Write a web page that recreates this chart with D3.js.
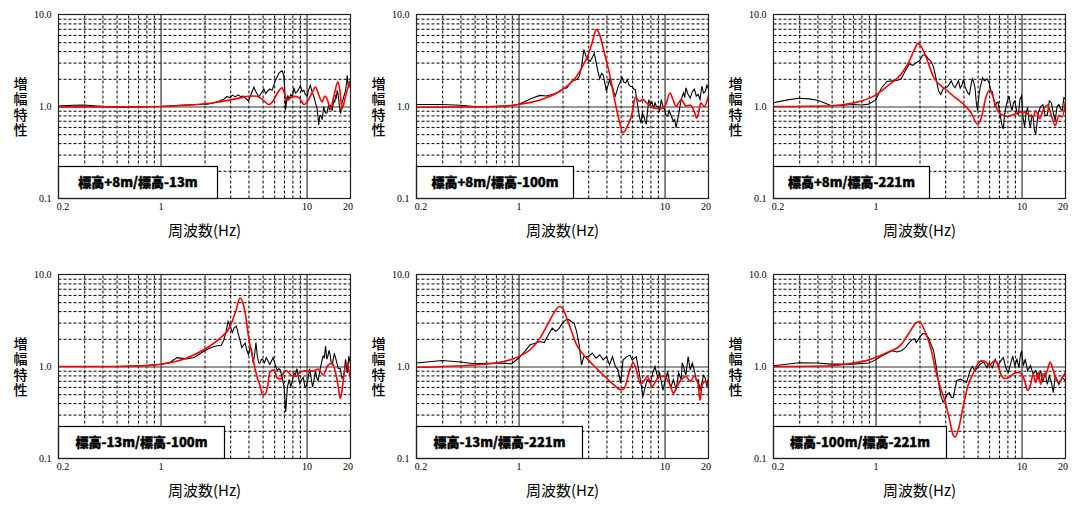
<!DOCTYPE html>
<html><head><meta charset="utf-8">
<script src="https://cdn.jsdelivr.net/npm/d3@7"></script>
<style>body{margin:0;background:#fff}</style>
</head><body>
<svg id="chart" width="1076" height="506"></svg>
<script>
// ---------- data ----------
const panelTitles = ["標高+8m/標高-13m","標高+8m/標高-100m","標高+8m/標高-221m",
                     "標高-13m/標高-100m","標高-13m/標高-221m","標高-100m/標高-221m"];
const xTickValues = [0.2, 1, 10, 20];
const xTickLabels = ["0.2", "1", "10", "20"];
const yTickValues = [0.1, 1, 10];
const yTickLabels = ["0.1", "1.0", "10.0"];
const xLabel = "周波数(Hz)";
const yLabel = "増幅特性";

// observed (black) [frequency Hz, amplification]
const obs1 = [[0.2,1.01],[0.25,1.03],[0.3,1.04],[0.35,1.02],[0.45,0.99],[0.55,0.98],[0.7,0.99],[0.85,1.0],[1.0,1.0],[1.2,1.02],[1.44,1.04],[1.8,1.05],[2.1,1.06],[2.32,1.1],[2.5,1.14],[2.71,1.2],[2.85,1.28],[3.0,1.25],[3.1,1.33],[3.25,1.27],[3.4,1.34],[3.55,1.28],[3.7,1.3],[3.85,1.22],[4.0,1.15],[4.2,1.4],[4.36,1.62],[4.5,1.45],[4.71,1.27],[4.9,1.4],[5.1,1.55],[5.25,1.38],[5.37,1.45],[5.6,1.55],[5.81,1.5],[6.0,1.75],[6.12,1.93],[6.3,2.1],[6.46,2.3],[6.65,2.4],[6.81,2.44],[6.98,2.15],[7.1,1.5],[7.18,0.91],[7.3,1.15],[7.45,1.3],[7.6,1.2],[7.8,1.35],[8.0,1.28],[8.19,1.6],[8.4,1.4],[8.63,1.45],[8.85,1.55],[9.09,1.7],[9.3,1.45],[9.58,1.5],[9.8,1.35],[10.1,1.3],[10.3,1.5],[10.6,1.7],[10.9,1.45],[11.2,1.3],[11.5,1.1],[11.8,0.95],[12.0,0.75],[12.1,0.63],[12.3,0.78],[12.5,0.8],[12.8,0.72],[13.1,1.0],[13.3,0.9],[13.5,0.85],[13.8,0.85],[14.0,0.95],[14.2,1.05],[14.4,0.92],[14.6,1.04],[14.8,0.96],[15.0,0.9],[15.2,1.05],[15.4,1.17],[15.6,1.1],[15.8,1.3],[16.0,1.25],[16.2,1.5],[16.4,1.4],[16.6,1.2],[16.8,1.0],[17.1,0.84],[17.3,0.95],[17.5,1.1],[17.8,1.2],[18.0,1.28],[18.3,1.4],[18.5,1.5],[18.8,1.8],[19.0,2.19],[19.3,1.7],[19.5,1.6],[19.8,1.9],[20,1.75]];
const obs2 = [[0.2,1.05],[0.3,1.05],[0.4,1.03],[0.5,1.0],[0.7,1.0],[0.85,1.02],[1.0,1.05],[1.2,1.21],[1.4,1.32],[1.55,1.3],[1.7,1.35],[1.85,1.42],[2.0,1.55],[2.15,1.6],[2.3,1.88],[2.5,1.96],[2.6,2.1],[2.7,2.7],[2.8,4.15],[2.9,3.5],[3.0,3.2],[3.1,3.1],[3.2,3.4],[3.3,3.8],[3.4,3.0],[3.5,2.4],[3.6,2.0],[3.7,2.3],[3.8,2.2],[3.9,1.8],[4.0,1.47],[4.1,1.7],[4.2,1.96],[4.3,1.7],[4.4,1.66],[4.5,1.4],[4.6,1.3],[4.7,1.45],[4.8,1.63],[5.0,1.9],[5.1,2.1],[5.25,1.85],[5.4,1.8],[5.55,1.95],[5.7,1.73],[5.85,1.65],[6.0,1.65],[6.15,1.55],[6.3,1.53],[6.45,1.2],[6.6,0.94],[6.75,0.75],[6.9,0.66],[7.05,0.85],[7.2,0.79],[7.35,0.7],[7.5,0.64],[7.65,0.9],[7.8,1.19],[8.0,1.05],[8.2,1.12],[8.4,0.95],[8.6,1.1],[8.8,1.0],[9.0,1.0],[9.25,0.9],[9.5,1.19],[9.75,1.0],[10.0,0.93],[10.25,0.8],[10.5,0.79],[10.75,0.9],[11.0,0.82],[11.25,0.75],[11.5,0.69],[11.75,0.72],[12.0,0.59],[12.25,0.7],[12.5,0.82],[12.75,1.0],[13.0,1.19],[13.25,1.3],[13.5,1.41],[13.75,1.25],[14.0,1.6],[14.5,1.35],[15.0,1.24],[15.5,1.45],[16.0,1.55],[16.5,1.3],[17.0,1.35],[17.5,1.2],[18.0,1.66],[18.5,1.4],[19.0,1.45],[19.5,1.7],[20,1.55]];
const obs3 = [[0.2,1.1],[0.25,1.18],[0.3,1.23],[0.35,1.21],[0.4,1.17],[0.5,1.02],[0.6,1.03],[0.7,1.05],[0.8,1.04],[0.9,1.06],[1.0,1.18],[1.1,1.6],[1.2,1.87],[1.3,1.9],[1.4,1.92],[1.5,2.0],[1.6,2.45],[1.7,2.9],[1.8,2.8],[1.9,3.0],[2.0,3.14],[2.1,3.6],[2.2,3.65],[2.3,3.3],[2.4,3.1],[2.5,2.66],[2.6,2.0],[2.7,1.48],[2.8,1.35],[2.9,1.55],[3.0,1.6],[3.1,1.64],[3.2,1.75],[3.3,1.9],[3.4,1.7],[3.5,1.6],[3.6,1.75],[3.7,1.9],[3.8,1.58],[3.9,1.7],[4.0,1.97],[4.1,1.65],[4.2,1.5],[4.3,1.4],[4.4,1.35],[4.5,1.7],[4.6,2.0],[4.7,1.85],[4.8,1.6],[4.9,1.1],[5.0,0.9],[5.1,1.3],[5.2,1.6],[5.3,1.8],[5.4,2.05],[5.5,1.95],[5.6,1.9],[5.8,2.0],[6.0,1.8],[6.15,1.5],[6.3,1.45],[6.45,1.2],[6.6,0.98],[6.75,1.1],[6.9,1.12],[7.05,0.9],[7.2,0.75],[7.35,0.62],[7.5,0.57],[7.65,0.8],[7.8,0.98],[8.0,1.15],[8.2,1.3],[8.4,1.05],[8.6,0.9],[8.8,1.1],[9.0,1.15],[9.25,0.9],[9.5,0.8],[9.75,1.2],[10.0,1.3],[10.25,0.75],[10.5,0.6],[10.75,0.85],[11.0,0.98],[11.25,0.7],[11.5,0.58],[11.75,0.8],[12.0,0.76],[12.25,0.55],[12.5,0.5],[12.75,0.65],[13.0,0.85],[13.5,1.0],[14.0,1.05],[14.5,0.8],[15.0,0.8],[15.5,1.15],[16.0,1.1],[16.5,0.85],[17.0,0.7],[17.5,1.0],[18.0,1.05],[18.5,0.95],[19.0,0.9],[19.5,1.25],[20,1.2]];
const obs4 = [[0.2,1.0],[0.3,1.0],[0.5,1.0],[0.7,1.02],[0.8,1.03],[1.0,1.05],[1.15,1.1],[1.3,1.25],[1.5,1.21],[1.7,1.25],[2.0,1.48],[2.2,1.6],[2.4,1.67],[2.6,1.7],[2.7,1.9],[2.8,2.33],[2.9,3.1],[3.0,2.75],[3.1,2.35],[3.2,2.65],[3.3,2.75],[3.4,2.3],[3.5,1.93],[3.6,1.6],[3.7,1.7],[3.8,1.8],[3.9,1.5],[4.0,1.35],[4.1,1.6],[4.2,1.55],[4.3,1.09],[4.4,1.3],[4.5,1.82],[4.6,1.3],[4.7,1.1],[4.8,1.09],[4.9,1.2],[5.0,1.2],[5.15,1.1],[5.3,1.25],[5.45,1.15],[5.6,1.05],[5.75,1.15],[5.9,1.25],[6.1,1.05],[6.3,0.9],[6.45,0.95],[6.6,0.92],[6.8,0.75],[7.0,0.62],[7.1,0.45],[7.2,0.32],[7.3,0.45],[7.4,0.6],[7.6,0.72],[7.8,0.6],[8.0,0.7],[8.2,0.85],[8.4,0.82],[8.6,0.95],[8.8,0.75],[9.0,0.65],[9.25,0.72],[9.5,0.76],[9.75,0.6],[10.0,0.62],[10.25,0.75],[10.5,0.95],[10.75,0.75],[11.0,0.6],[11.25,0.72],[11.5,0.9],[11.75,0.75],[12.0,0.7],[12.25,0.85],[12.5,1.0],[12.75,1.15],[13.0,1.3],[13.25,1.25],[13.5,1.67],[13.75,1.2],[14.0,1.3],[14.25,1.5],[14.5,1.35],[14.75,1.1],[15.0,1.05],[15.5,1.4],[16.0,1.15],[16.5,0.95],[17.0,0.95],[17.5,0.75],[18.0,0.8],[18.5,1.2],[19.0,0.85],[19.5,1.3],[20,1.05]];
const obs5 = [[0.2,1.09],[0.3,1.16],[0.4,1.12],[0.5,1.07],[0.7,1.09],[0.9,1.07],[1.0,1.23],[1.1,1.45],[1.2,1.72],[1.3,1.79],[1.4,1.87],[1.5,1.82],[1.6,2.21],[1.7,2.61],[1.8,2.4],[1.9,2.61],[2.0,2.96],[2.1,3.21],[2.2,3.25],[2.3,3.08],[2.4,2.96],[2.5,2.4],[2.6,1.72],[2.7,1.04],[2.8,1.28],[3.0,1.28],[3.2,1.4],[3.4,1.23],[3.6,1.34],[3.8,1.18],[4.0,1.28],[4.2,1.04],[4.4,1.28],[4.6,1.0],[4.8,0.92],[5.0,0.66],[5.2,1.18],[5.5,1.28],[5.8,1.33],[6.0,1.18],[6.4,1.28],[6.8,0.75],[7.1,0.47],[7.3,0.56],[7.6,0.72],[8.0,0.66],[8.3,0.85],[8.6,1.0],[9.0,0.75],[9.25,0.85],[9.5,0.69],[9.75,0.55],[10.0,0.66],[10.5,0.88],[11.0,0.58],[11.5,0.72],[12.0,0.56],[12.5,0.85],[13.0,0.72],[13.2,1.1],[13.5,1.0],[14.0,0.8],[14.5,1.28],[15.0,0.92],[15.5,1.09],[16.0,0.9],[16.5,0.7],[17.0,0.72],[17.5,0.55],[18.0,0.66],[18.5,0.8],[19.0,0.75],[19.5,0.6],[20,0.76]];
const obs6 = [[0.2,1.02],[0.3,1.1],[0.4,1.09],[0.5,1.06],[0.7,1.06],[0.9,1.09],[1.0,1.18],[1.1,1.3],[1.2,1.39],[1.3,1.48],[1.4,1.44],[1.5,1.48],[1.6,1.6],[1.7,1.82],[1.8,1.98],[1.85,2.0],[1.9,1.82],[2.0,2.06],[2.1,2.29],[2.2,2.24],[2.3,2.06],[2.4,1.74],[2.5,1.48],[2.6,1.02],[2.7,0.67],[2.8,0.48],[2.9,0.41],[3.0,0.44],[3.1,0.5],[3.2,0.52],[3.3,0.46],[3.4,0.46],[3.5,0.57],[3.6,0.7],[3.8,0.73],[4.0,0.7],[4.2,0.67],[4.4,0.86],[4.5,0.94],[4.6,1.0],[4.8,0.9],[5.0,0.97],[5.2,1.06],[5.5,1.12],[5.8,0.97],[6.0,1.09],[6.3,0.97],[6.6,1.2],[6.9,1.02],[7.2,1.15],[7.5,1.25],[7.8,0.97],[8.1,0.86],[8.4,1.06],[8.7,1.3],[9.0,1.02],[9.3,1.2],[9.6,0.97],[9.8,1.3],[10.0,1.48],[10.3,1.02],[10.6,1.2],[11.0,0.9],[11.5,1.02],[12.0,0.83],[12.5,0.9],[13.0,0.74],[13.5,0.9],[14.0,0.67],[14.5,0.86],[15.0,0.64],[15.5,0.79],[16.0,0.67],[16.5,0.52],[17.0,0.79],[18.0,0.64],[19.0,0.76],[20,0.7]];

// theoretical (red)
const theo1 = [[0.2,0.99],[0.4,0.99],[0.7,0.99],[1,1.0],[1.5,1.03],[2,1.07],[2.5,1.12],[3,1.18],[3.5,1.24],[4.0,1.29],[4.4,1.3],[4.8,1.25],[5.2,1.12],[5.5,1.05],[5.9,1.15],[6.4,1.45],[6.8,1.6],[7.1,1.35],[7.4,1.17],[7.8,1.25],[8.2,1.29],[8.8,1.26],[9.2,1.15],[9.6,1.05],[10.2,1.15],[11,1.45],[11.5,1.63],[12.1,1.35],[12.8,1.12],[13.3,1.3],[13.8,1.22],[14.6,0.95],[15.4,1.3],[16.4,1.85],[16.9,1.5],[17.5,0.95],[18.3,1.2],[19.2,1.6],[20,1.85]];
const theo2 = [[0.2,0.98],[0.5,0.99],[0.8,1.01],[1,1.05],[1.5,1.22],[2,1.53],[2.5,2.13],[2.8,2.9],[3.0,3.66],[3.2,5.0],[3.4,6.85],[3.6,6.0],[3.8,4.3],[4.0,3.1],[4.3,1.9],[4.5,1.29],[4.8,0.8],[5.2,0.52],[5.6,0.62],[6.0,0.85],[6.3,1.26],[6.75,1.14],[7.12,1.19],[7.6,1.08],[8.4,0.97],[9.0,0.95],[9.6,0.95],[10.2,1.05],[10.9,1.4],[11.4,1.2],[12.0,1.0],[12.5,1.1],[13.0,1.2],[14.0,1.01],[15,1.04],[16,0.88],[16.6,0.75],[17.1,0.85],[17.7,1.1],[18.7,1.0],[20,1.31]];
const theo3 = [[0.2,1.0],[0.5,1.02],[0.7,1.09],[1.0,1.33],[1.2,1.66],[1.5,2.25],[1.7,3.1],[1.85,4.2],[1.95,4.85],[2.05,4.5],[2.2,3.56],[2.5,2.08],[3.0,1.55],[3.5,1.26],[4.0,1.06],[4.5,0.86],[5.0,0.64],[5.3,0.75],[5.7,1.25],[6.0,1.5],[6.3,1.35],[6.7,0.98],[7.0,0.86],[7.5,0.8],[8.0,0.78],[9.0,0.83],[10.0,0.87],[11.0,0.83],[12.0,0.76],[12.5,0.9],[13.3,0.74],[14.0,0.9],[15,1.04],[16,0.8],[17,0.62],[18,0.8],[19,0.77],[20,1.15]];
const theo4 = [[0.2,1.0],[0.5,1.0],[0.8,1.02],[1.0,1.06],[1.5,1.23],[2.0,1.54],[2.5,1.97],[3.0,2.75],[3.3,4.17],[3.5,5.56],[3.65,5.0],[3.8,3.83],[4.0,2.14],[4.3,1.2],[4.6,0.75],[4.8,0.62],[5.0,0.49],[5.2,0.5],[5.4,0.6],[5.6,0.86],[6.0,0.92],[6.3,0.75],[6.7,0.73],[7.0,0.88],[7.3,0.9],[7.8,0.81],[8.5,0.78],[9.0,0.87],[10,0.9],[11,0.89],[12,0.94],[13,0.81],[14,1.03],[15,1.09],[16,0.78],[16.5,0.6],[17,0.45],[17.5,0.55],[18,0.8],[18.8,1.1],[19.4,0.95],[20,0.73]];
const theo5 = [[0.2,0.98],[0.5,1.04],[0.7,1.09],[0.9,1.2],[1.0,1.28],[1.2,1.52],[1.4,2.03],[1.6,2.96],[1.8,4.12],[1.9,4.49],[2.0,4.3],[2.2,2.96],[2.5,1.72],[3.0,1.18],[3.5,0.92],[4.0,0.75],[4.5,0.63],[5.0,0.56],[5.3,0.58],[5.7,0.85],[6.1,1.1],[6.4,0.92],[6.8,0.66],[7.2,0.69],[7.6,0.78],[8.2,0.61],[9.0,0.75],[9.5,0.78],[10,0.78],[11,0.61],[11.5,0.51],[12,0.58],[13,0.72],[14,0.78],[15,0.69],[16,0.78],[17,0.63],[17.5,0.43],[18,0.61],[19,0.69],[20,0.61]];
const theo6 = [[0.2,1.0],[0.5,1.02],[0.7,1.09],[0.9,1.18],[1.0,1.25],[1.2,1.42],[1.5,1.74],[1.7,2.33],[1.9,2.99],[2.0,3.07],[2.2,2.33],[2.4,1.54],[2.6,0.86],[2.8,0.57],[3.0,0.41],[3.2,0.27],[3.4,0.18],[3.5,0.17],[3.7,0.21],[4.0,0.38],[4.3,0.62],[4.7,0.86],[5.0,1.06],[5.3,1.15],[5.7,1.12],[6.0,1.02],[6.5,1.15],[6.8,1.1],[7.2,0.83],[7.6,0.74],[8.2,0.76],[9.0,0.85],[9.5,0.86],[10,0.83],[10.5,0.7],[11,0.55],[11.5,0.62],[12,0.83],[12.5,0.67],[13,0.86],[13.5,0.64],[14,0.83],[14.5,0.79],[15,0.9],[15.7,1.12],[16.5,0.9],[17.5,0.7],[18,0.67],[19,0.76],[20,0.86]];

const observed = [obs1, obs2, obs3, obs4, obs5, obs6];
const theoretical = [theo1, theo2, theo3, theo4, theo5, theo6];

// ---------- layout ----------
const colLeft = [58.5, 416.5, 773.5];
const rowTop = [14.5, 274.5];
const W = 292, H = 184;
const boxW = [159, 157, 156, 166, 166, 173];
const boxH = 32;

const svg = d3.select("#chart");
const minorX = [0.3,0.4,0.5,0.6,0.7,0.8,0.9,2,3,4,5,6,7,8,9];
const minorY = [0.2,0.3,0.4,0.5,0.6,0.7,0.8,0.9,2,3,4,5,6,7,8,9];

panelTitles.forEach((title, i) => {
  const col = i % 3, row = Math.floor(i / 3);
  const g = svg.append("g").attr("transform", `translate(${colLeft[col]},${rowTop[row]})`);
  const x = d3.scaleLog().domain([0.2, 20]).range([0, W]);
  const y = d3.scaleLog().domain([0.1, 10]).range([H, 0]);

  // minor dashed grid
  const gxm = g.append("g").attr("transform", `translate(0,${H})`)
    .call(d3.axisBottom(x).tickValues(minorX).tickSize(-H).tickFormat(""));
  const gym = g.append("g")
    .call(d3.axisLeft(y).tickValues(minorY).tickSize(-W).tickFormat(""));
  [gxm, gym].forEach(a => {
    a.select(".domain").remove();
    a.selectAll("line").attr("stroke", "#000").attr("stroke-width", 1).attr("stroke-dasharray", "3,2");
  });
  // major solid grid
  const gxM = g.append("g").attr("transform", `translate(0,${H})`)
    .call(d3.axisBottom(x).tickValues([1, 10]).tickSize(-H).tickFormat(""));
  const gyM = g.append("g")
    .call(d3.axisLeft(y).tickValues([1]).tickSize(-W).tickFormat(""));
  [gxM, gyM].forEach(a => {
    a.select(".domain").remove();
    a.selectAll("line").attr("stroke", "#333").attr("stroke-width", 1.2);
  });

  // clip
  const cid = "clip" + i;
  g.append("clipPath").attr("id", cid).append("rect").attr("width", W).attr("height", H);
  const plot = g.append("g").attr("clip-path", `url(#${cid})`);

  const lineObs = d3.line().x(d => x(d[0])).y(d => y(d[1]));
  const lineTheo = d3.line().x(d => x(d[0])).y(d => y(d[1])).curve(d3.curveMonotoneX);
  plot.append("path").datum(observed[i]).attr("d", lineObs)
    .attr("fill", "none").attr("stroke", "#000").attr("stroke-width", 1.1);
  plot.append("path").datum(theoretical[i]).attr("d", lineTheo)
    .attr("fill", "none").attr("stroke", "#ff0000").attr("stroke-width", 1.6);

  // label box
  g.append("rect").attr("x", 0).attr("y", H - boxH).attr("width", boxW[i]).attr("height", boxH)
    .attr("fill", "#fff").attr("stroke", "#000").attr("stroke-width", 1.2);
  g.append("text").attr("x", boxW[i] / 2).attr("y", H - boxH / 2).attr("dy", "0.35em")
    .attr("text-anchor", "middle").attr("font-family", "'Noto Sans CJK JP', sans-serif")
    .attr("font-weight", 900).attr("font-size", 13).attr("fill", "#000")
    .attr("stroke", "#000").attr("stroke-width", 0.4).text(title);

  // frame
  g.append("rect").attr("width", W).attr("height", H).attr("fill", "none")
    .attr("stroke", "#222").attr("stroke-width", 1.2);

  // tick labels
  const ax = g.append("g").attr("transform", `translate(0,${H})`)
    .call(d3.axisBottom(x).tickValues(xTickValues).tickSize(0).tickPadding(4)
      .tickFormat((d, k) => xTickLabels[k]));
  ax.select(".domain").remove();
  ax.selectAll("text").attr("font-family", "'Liberation Serif', serif").attr("font-size", 10).attr("fill", "#000")
    .attr("dx", (d, k) => k === 0 ? 4 : (k === xTickValues.length - 1 ? -3 : 0));
  const ay = g.append("g")
    .call(d3.axisLeft(y).tickValues(yTickValues).tickSize(0).tickPadding(7)
      .tickFormat((d, k) => yTickLabels[k]));
  ay.select(".domain").remove();
  ay.selectAll("text").attr("font-family", "'Liberation Serif', serif").attr("font-size", 10).attr("fill", "#000");

  // axis titles
  g.append("text").attr("x", W / 2).attr("y", H + 32).attr("dy", "0.35em").attr("text-anchor", "middle")
    .attr("font-family", "'Noto Sans CJK JP', sans-serif").attr("font-size", 15).attr("fill", "#000")
    .text(xLabel);
  g.append("text").attr("x", -38).attr("y", H / 2 + 1)
    .attr("writing-mode", "vertical-rl").style("writing-mode", "vertical-rl")
    .attr("text-anchor", "middle").attr("letter-spacing", 1.5)
    .attr("font-family", "'Noto Sans CJK JP', sans-serif").attr("font-size", 14)
    .attr("font-weight", "500").attr("fill", "#000").text(yLabel);
});
</script>
</body></html>
